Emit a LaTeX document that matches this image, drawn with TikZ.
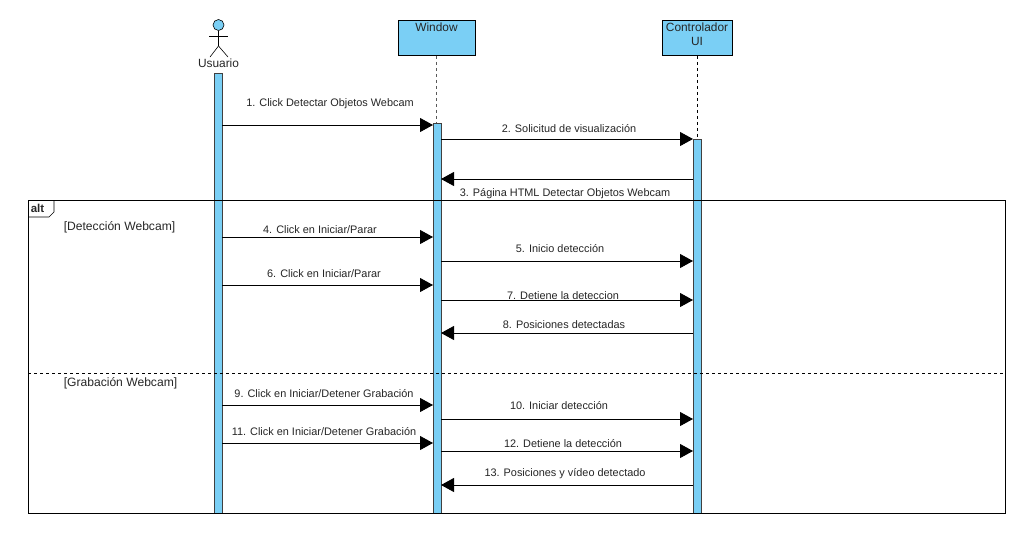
\documentclass[tikz,border=0pt]{standalone}
\usepackage{fontspec}
\setmainfont{Liberation Sans}
\usetikzlibrary{arrows.meta}
\definecolor{barblue}{HTML}{7ACFF5}
\definecolor{labelgray}{HTML}{262626}
\tikzset{
    lane/.style={draw=black, thick, fill=barblue, minimum height=35pt, inner sep=0pt, anchor=north},
    lanetext/.style={anchor=north, yshift=-2.5pt, inner sep=0pt, text=labelgray, font=\fontsize{11.9}{14}\selectfont, align=center},
    bar/.style={draw=black!75, semithick, fill=barblue},
    msg/.style={draw=black, line width=0.9pt, -{Triangle[length=13pt, width=14pt]}},
    msgtext/.style={fill=white, inner sep=1pt, text=labelgray, font=\fontsize{10.9}{12}\selectfont},
    guard/.style={text=labelgray, font=\fontsize{12.1}{14}\selectfont, inner sep=0pt}
}
\begin{document}
\begin{tikzpicture}[x=1pt, y=-1pt]
            \useasboundingbox (0, 0) rectangle (1027, 536);

            % lifelines
            \node[lane, minimum width=77pt, label={[lanetext]north:Window}] (window) at (436.5, 20) {};
            \node[lane, minimum width=70pt, label={[lanetext]north:Controlador\\UI}] (ctrl) at (697, 20) {};
            \coordinate (windowtop) at (436.5, 123);
            \coordinate (ctrltop) at (697, 139);
            \draw[gray!70!black, line width=1.2pt, dashed] (window.south) to (windowtop);
            \draw[black, line width=0.7pt, dashed] (ctrl.south) to (ctrltop);

            % actor
            \coordinate (hip) at (218.5, 46);
            \coordinate (armL) at (209, 36);
            \coordinate (armR) at (228, 36);
            \coordinate (legL) at (210, 57);
            \coordinate (legR) at (228, 57);
            \node[circle, draw=black, semithick, fill=barblue, minimum size=11pt, inner sep=0pt] (head) at (218.5, 25) {};
            \draw[black, semithick] (head) to (hip);
            \draw[black, semithick] (armL) to (armR);
            \draw[black, semithick] (legL) to (hip);
            \draw[black, semithick] (legR) to (hip);
            \node[text=labelgray, font=\fontsize{11.9}{13}\selectfont, inner sep=0pt] (usuario) at (218.5, 63) {Usuario};

            % activation bars
            \draw[bar] (214, 73) rectangle (222, 513);
            \draw[bar] (433, 123) rectangle (441, 513);
            \draw[bar] (693, 139) rectangle (701, 513);

            % alt frame
            \draw[black, semithick] (28, 200) rectangle (1005, 513);
            \draw[black, semithick] (28, 217) to (49, 217) to (54, 212) to (54, 200);
            \draw[black, semithick, dashed] (28, 373) to (1005, 373);
            \node[font=\fontsize{11.5}{13}\selectfont\bfseries, text=labelgray, inner sep=0pt] (alt) at (37.5, 208) {alt};
            \node[guard] (g1) at (119.5, 227) {[Detección Webcam]};
            \node[guard] (g2) at (120.5, 383) {[Grabación Webcam]};

            % message labels
            \node[msgtext] (t1) at (330, 103.5) {1. Click Detectar Objetos Webcam};
            \node[msgtext] (t2) at (569, 129) {2. Solicitud de visualización};
            \node[msgtext] (t3) at (565, 193.5) {3. Página HTML Detectar Objetos Webcam};
            \node[msgtext] (t4) at (320, 230) {4. Click en Iniciar/Parar};
            \node[msgtext] (t5) at (560, 249) {5. Inicio detección};
            \node[msgtext] (t6) at (324, 274) {6. Click en Iniciar/Parar};
            \node[msgtext] (t7) at (563, 296) {7. Detiene la deteccion};
            \node[msgtext] (t8) at (564, 325) {8. Posiciones detectadas};
            \node[msgtext] (t9) at (324, 394) {9. Click en Iniciar/Detener Grabación};
            \node[msgtext] (t10) at (559, 406) {10. Iniciar detección};
            \node[msgtext] (t11) at (324, 432) {11. Click en Iniciar/Detener Grabación};
            \node[msgtext] (t12) at (563, 443.5) {12. Detiene la detección};
            \node[msgtext] (t13) at (565, 474) {13. Posiciones y vídeo detectado};

            % message ends
            \coordinate (U1) at (222, 125);
            \coordinate (W1) at (433, 125);
            \coordinate (W2) at (441, 139);
            \coordinate (C2) at (693, 139);
            \coordinate (C3) at (693, 179);
            \coordinate (W3) at (441, 179);
            \coordinate (U4) at (222, 237);
            \coordinate (W4) at (433, 237);
            \coordinate (W5) at (441, 261);
            \coordinate (C5) at (693, 261);
            \coordinate (U6) at (222, 285);
            \coordinate (W6) at (433, 285);
            \coordinate (W7) at (441, 300);
            \coordinate (C7) at (693, 300);
            \coordinate (C8) at (693, 333);
            \coordinate (W8) at (441, 333);
            \coordinate (U9) at (222, 405);
            \coordinate (W9) at (433, 405);
            \coordinate (W10) at (441, 419);
            \coordinate (C10) at (693, 419);
            \coordinate (U11) at (222, 443);
            \coordinate (W11) at (433, 443);
            \coordinate (W12) at (441, 451);
            \coordinate (C12) at (693, 451);
            \coordinate (C13) at (693, 485);
            \coordinate (W13) at (441, 485);

            \draw[msg] (U1) to (W1);
            \draw[msg] (W2) to (C2);
            \draw[msg] (C3) to (W3);
            \draw[msg] (U4) to (W4);
            \draw[msg] (W5) to (C5);
            \draw[msg] (U6) to (W6);
            \draw[msg] (W7) to (C7);
            \draw[msg] (C8) to (W8);
            \draw[msg] (U9) to (W9);
            \draw[msg] (W10) to (C10);
            \draw[msg] (U11) to (W11);
            \draw[msg] (W12) to (C12);
            \draw[msg] (C13) to (W13);

\end{tikzpicture}
\end{document}
